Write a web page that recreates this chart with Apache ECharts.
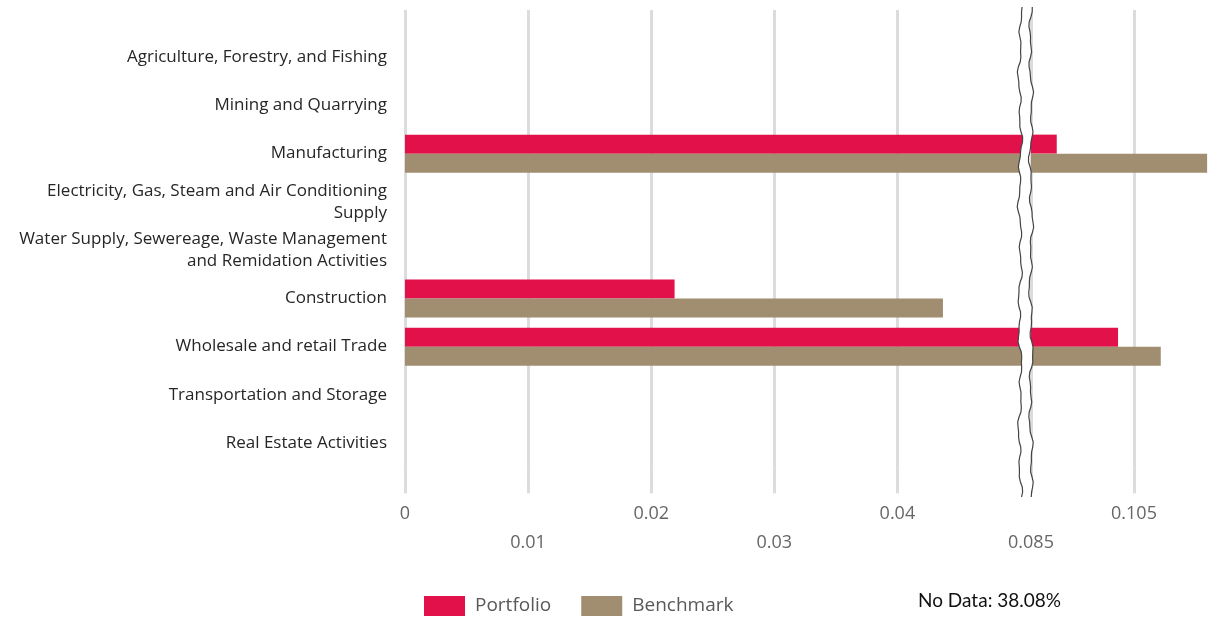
<!DOCTYPE html>
<html>
<head>
<meta charset="utf-8">
<script src="https://cdn.jsdelivr.net/npm/echarts@6/dist/echarts.min.js"></script>
<style>
  html, body { margin: 0; padding: 0; background: #fff; }
  #chart { width: 1216px; height: 619px; }
</style>
</head>
<body>
<div id="chart"></div>
<script>
// sectors, top to bottom
const categories = [
  'Agriculture, Forestry, and Fishing',
  'Mining and Quarrying',
  'Manufacturing',
  'Electricity, Gas, Steam and Air Conditioning\nSupply',
  'Water Supply, Sewereage, Waste Management\nand Remidation Activities',
  'Construction',
  'Wholesale and retail Trade',
  'Transportation and Storage',
  'Real Estate Activities'
];
const portfolio = [null, null, 0.0900, null, null, 0.0219, 0.1019, null, null];
const benchmark = [null, null, 0.1192, null, null, 0.0437, 0.1102, null, null];

// broken x axis: low part and high part
const lowTicks = [0, 0.01, 0.02, 0.03, 0.04];
const highTicks = [0.085, 0.105];
const noDataText = 'No Data: 38.08%';

const RED = '#E2114A';
const TAN = '#A18E71';
const GRID_COLOR = '#dcdcdc';
const FONT = 'Open Sans';

const myChart = echarts.init(document.getElementById('chart'));

const fmt = v => String(Number(v.toFixed(4)));

// grid geometry
const plotTop = 33, plotH = 434.25;
const lowLeft = 405, lowWidth = 620;          // 0.01 = 123.1px
const highLeft = 1031, highWidth = 185;       // 0.02 = 103px
const lowMax = lowWidth / 12310;
const highMax = 0.085 + highWidth / 5150;

function bottomAxis(gridIndex, min, max, ticks, rowOffset) {
  return {
    type: 'value', gridIndex: gridIndex, position: 'bottom',
    min: min, max: max,
    axisLine: { show: false },
    axisTick: { show: true, customValues: ticks, length: 26, lineStyle: { color: GRID_COLOR, width: 3 } },
    splitLine: { show: true, lineStyle: { color: GRID_COLOR, width: 3 } },
    axisLabel: {
      customValues: ticks,
      margin: 32, lineHeight: 29, fontSize: 18, color: '#666', fontFamily: FONT,
      formatter: function (v) {
        const i = ticks.indexOf(Number(v.toFixed(4)));
        return (i + rowOffset) % 2 ? '\n' + fmt(v) : fmt(v);
      }
    }
  };
}
function topAxis(gridIndex, min, max, ticks) {
  return {
    type: 'value', gridIndex: gridIndex, position: 'top',
    min: min, max: max,
    axisLine: { show: false },
    axisTick: { show: true, customValues: ticks, length: 23, lineStyle: { color: GRID_COLOR, width: 3 } },
    splitLine: { show: false },
    axisLabel: { show: false, customValues: ticks }
  };
}
function catAxis(gridIndex, showLabels) {
  return {
    type: 'category', gridIndex: gridIndex, inverse: true,
    data: categories,
    axisLine: { show: false },
    axisTick: { show: false },
    axisLabel: {
      show: showLabels, margin: 18, fontSize: 17, lineHeight: 22,
      color: '#262626', fontFamily: FONT
    }
  };
}
function barSeries(name, data, xi, yi, color) {
  return {
    name: name, type: 'bar', data: data,
    xAxisIndex: xi, yAxisIndex: yi,
    barWidth: 19, barGap: '0%',
    itemStyle: { color: color },
    clip: true, silent: true
  };
}

// zigzag of the axis break (decoration only)
function wiggle(x0, phase) {
  const pts = [];
  for (let y = 7; y <= 497; y += 5) {
    const dx = 1.3 * Math.sin(y / 7 + phase) + 1.0 * Math.sin(y / 19 + phase * 2)
      + 0.6 * Math.sin(y / 3.1 + phase * 3);
    pts.push([x0 + dx, y]);
  }
  return pts;
}
const leftLine = wiggle(1020, 0.3);
const rightLine = wiggle(1031, 1.1);

const option = {
  animation: false,
  textStyle: { fontFamily: FONT },
  grid: [
    { left: lowLeft, top: plotTop, width: lowWidth, height: plotH },
    { left: highLeft, top: plotTop, width: highWidth, height: plotH }
  ],
  xAxis: [
    bottomAxis(0, 0, lowMax, lowTicks, 0),
    topAxis(0, 0, lowMax, lowTicks),
    bottomAxis(1, 0.085, highMax, highTicks, 1),
    topAxis(1, 0.085, highMax, highTicks)
  ],
  yAxis: [catAxis(0, true), catAxis(1, false)],
  legend: {
    left: 424, top: 596, padding: 0,
    icon: 'rect', itemWidth: 41, itemHeight: 20, itemGap: 30,
    textStyle: { fontSize: 19, color: '#595959', fontFamily: FONT, padding: [0, 0, 0, 5] },
    data: ['Portfolio', 'Benchmark']
  },
  series: [
    barSeries('Portfolio', portfolio, 0, 0, RED),
    barSeries('Benchmark', benchmark, 0, 0, TAN),
    barSeries('Portfolio', portfolio, 2, 1, RED),
    barSeries('Benchmark', benchmark, 2, 1, TAN)
  ],
  graphic: [
    {
      type: 'polygon', z: 100, silent: true,
      shape: { points: leftLine.concat(rightLine.slice().reverse()) },
      style: { fill: '#fff', stroke: null }
    },
    {
      type: 'polyline', z: 101, silent: true,
      shape: { points: leftLine },
      style: { stroke: '#444', lineWidth: 1.2, fill: null }
    },
    {
      type: 'polyline', z: 101, silent: true,
      shape: { points: rightLine },
      style: { stroke: '#444', lineWidth: 1.2, fill: null }
    },
    {
      type: 'text', left: 918, top: 591, z: 100,
      style: { text: noDataText, fontSize: 19, fill: '#111', fontFamily: 'Lato' }
    }
  ]
};

myChart.setOption(option);
</script>
</body>
</html>
